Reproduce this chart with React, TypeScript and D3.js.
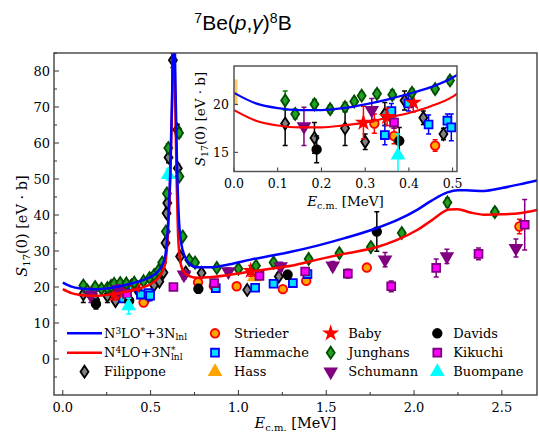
import React, { useEffect, useRef } from 'react';
import * as d3 from 'd3';

// theory curves, E in MeV, S17 in eV b
const blueE = [0, 0.05, 0.1, 0.15, 0.2, 0.25, 0.3, 0.35, 0.4, 0.45, 0.5, 0.54, 0.565, 0.583, 0.6, 0.612, 0.622, 0.632, 0.642, 0.65, 0.66, 0.675, 0.695, 0.72, 0.76, 0.85, 0.95, 1.07, 1.2, 1.3, 1.45, 1.6, 1.79, 1.9, 2.02, 2.1, 2.19, 2.25, 2.32, 2.4, 2.5, 2.6, 2.7];
const blueS = [21.2, 20.1, 19.6, 19.4, 19.4, 19.6, 20.0, 20.5, 21.1, 21.8, 22.8, 24.2, 26.0, 28.5, 38, 52, 72, 100, 75, 55, 40, 32, 28.5, 26.5, 25.5, 25.5, 26.3, 27.6, 28.8, 29.8, 31.5, 33.5, 36.4, 38.5, 41.5, 44.0, 46.3, 46.9, 46.8, 46.7, 47.5, 48.5, 49.6];
const redE = [0, 0.05, 0.1, 0.15, 0.2, 0.25, 0.3, 0.35, 0.4, 0.45, 0.5, 0.54, 0.565, 0.585, 0.6, 0.612, 0.622, 0.631, 0.64, 0.648, 0.656, 0.668, 0.685, 0.72, 0.76, 0.85, 0.95, 1.07, 1.2, 1.3, 1.45, 1.6, 1.79, 1.9, 2.02, 2.1, 2.2, 2.25, 2.32, 2.4, 2.5, 2.6, 2.7];
const redS = [19.4, 18.3, 17.8, 17.6, 17.6, 17.8, 18.1, 18.6, 19.1, 19.8, 20.8, 22.3, 24.0, 27, 36, 50, 70, 100, 72, 50, 35, 27.5, 24.5, 23.0, 22.6, 22.8, 23.4, 24.3, 25.2, 25.9, 27.6, 29.2, 31.1, 33.0, 35.9, 38.5, 41.5, 41.6, 40.7, 40.1, 40.2, 40.5, 41.4];

// experiments: [E, S17, error]
const filippone = [[0.117, 18.0, 2.3], [0.184, 16.5, 1.6], [0.254, 17.5, 1.8], [0.30, 16.1, 0.8], [0.345, 19.0, 1.2], [0.39, 20.4, 1.0], [0.433, 18.6, 0.7], [0.479, 16.9, 0.6], [0.52, 20.5, 0.8], [0.55, 21.5, 0.8], [0.573, 24.0, 0.8], [0.585, 32.2, 1.0], [0.591, 40.5, 1.0], [0.595, 43.3, 1.2], [0.602, 56.0, 1.5], [0.627, 83.0, 2.0], [0.652, 63.7, 1.5], [0.655, 53.0, 1.2], [0.668, 28.5, 0.8], [0.70, 24.0, 0.8], [0.79, 23.9, 0.8], [1.05, 19.2, 0.8], [1.23, 22.9, 0.9]];
const strieder = [[0.321, 18.0, 1.0], [0.366, 16.7, 0.8], [0.46, 15.7, 0.6], [0.77, 21.3, 0.6], [0.86, 20.3, 0.6], [0.99, 20.2, 0.6], [1.253, 19.4, 0.6], [1.386, 21.7, 0.7], [1.731, 25.4, 0.8], [2.60, 36.8, 2.0]];
const hammache = [[0.345, 16.8, 1.0], [0.36, 19.3, 0.8], [0.399, 20.1, 0.8], [0.445, 17.9, 1.0], [0.488, 18.3, 0.7], [0.497, 17.6, 1.4], [0.871, 19.7, 0.8], [1.095, 19.8, 0.8], [1.2, 20.9, 0.8], [1.31, 21.1, 0.8], [1.393, 23.6, 0.9]];
const hass = [[1.09, 22.8, 0.9]];
const baby = [[0.296, 18.1, 1.7], [0.35, 18.7, 0.9], [0.41, 20.2, 1.0], [1.07, 24.5, 1.5]];
const junghans = [[0.117, 20.4, 1.0], [0.14, 19.0, 0.5], [0.184, 20.0, 0.5], [0.22, 19.5, 0.4], [0.254, 19.7, 0.5], [0.275, 20.3, 0.4], [0.292, 20.9, 0.4], [0.327, 21.1, 0.4], [0.362, 21.0, 0.5], [0.407, 21.2, 0.4], [0.46, 21.6, 0.4], [0.494, 22.5, 0.4], [0.52, 23.3, 0.4], [0.545, 24.6, 0.5], [0.566, 26.8, 0.6], [0.587, 35.4, 0.8], [0.593, 46.0, 1.0], [0.601, 58.6, 1.2], [0.662, 62.8, 1.2], [0.664, 50.7, 1.0], [0.683, 34.0, 0.8], [0.72, 27.5, 0.6], [0.753, 26.8, 0.6], [0.877, 25.3, 0.6], [1.0, 25.1, 0.6], [1.10, 25.9, 0.7], [1.20, 26.8, 0.7], [1.40, 27.8, 0.8], [1.575, 29.4, 0.8], [1.754, 31.1, 0.9], [1.93, 35.0, 1.0], [2.19, 43.5, 1.2], [2.46, 40.8, 1.1]];
const schumann = [[0.16, 17.7, 2.0], [0.315, 19.4, 1.2], [0.69, 23.4, 1.2], [0.943, 24.3, 1.0], [1.24, 25.7, 1.2], [1.537, 25.9, 1.2], [1.835, 27.6, 2.0], [2.187, 28.5, 2.0], [2.58, 30.8, 2.5]];
const davids = [[0.189, 15.3, 1.4], [0.378, 16.2, 1.4], [0.772, 19.5, 1.2], [1.28, 23.4, 1.2], [1.788, 35.4, 5.5]];
const kikuchi = [[0.366, 18.1, 0.6], [0.63, 20.0, 0.8], [0.862, 21.1, 0.8], [1.12, 23.1, 0.9], [1.38, 24.3, 1.0], [1.623, 23.7, 1.2], [1.87, 20.2, 1.5], [2.126, 25.3, 2.5], [2.367, 29.2, 1.6], [2.63, 37.3, 7.0]];
const buompane = [[0.375, 14.7, 2.2], [0.60, 51.2, 1.5]];

const xTicks = [0, 0.5, 1.0, 1.5, 2.0, 2.5];
const yTicks = [0, 10, 20, 30, 40, 50, 60, 70, 80];
const insetXTicks = [0, 0.1, 0.2, 0.3, 0.4, 0.5];
const insetYTicks = [15, 20];
const hassBand = [19.9, 22.6]; // orange bar at E = 0 in the inset

const blueLabel = 'N<tspan font-size="9" dy="-4">3</tspan><tspan dy="4">LO</tspan><tspan font-size="9" dy="-4">*</tspan><tspan dy="4">+3N</tspan><tspan font-size="9" dy="2.5">lnl</tspan>';
const redLabel = 'N<tspan font-size="9" dy="-4">4</tspan><tspan dy="4">LO+3N</tspan><tspan font-size="9" dy="-4">*</tspan><tspan font-size="9" dx="-4.5" dy="6.5">lnl</tspan>';

const series = [
  { name: 'Filippone', data: filippone, shape: 'thin', fill: '#808080', stroke: '#000000', ebar: '#000000' },
  { name: 'Strieder', data: strieder, shape: 'circle', fill: '#ffa500', stroke: '#ff0000', ebar: '#ff0000' },
  { name: 'Hammache', data: hammache, shape: 'square', fill: '#00e0ff', stroke: '#0000ff', ebar: '#0000ff' },
  { name: 'Hass', data: hass, shape: 'triangle', fill: '#ffa500', stroke: '#ffa500', ebar: '#ffa500' },
  { name: 'Baby', data: baby, shape: 'star', fill: '#ff0000', stroke: '#ff0000', ebar: '#ff0000' },
  { name: 'Junghans', data: junghans, shape: 'thin', fill: '#22a022', stroke: '#004d00', ebar: '#008000' },
  { name: 'Schumann', data: schumann, shape: 'down', fill: '#800080', stroke: '#800080', ebar: '#800080' },
  { name: 'Davids', data: davids, shape: 'circle', fill: '#000000', stroke: '#000000', ebar: '#000000' },
  { name: 'Kikuchi', data: kikuchi, shape: 'square', fill: '#ff00ff', stroke: '#800080', ebar: '#800080' },
  { name: 'Buompane', data: buompane, shape: 'triangle', fill: '#00ffff', stroke: '#00ffff', ebar: '#00ffff' },
];

const markerPath = (shape: string) => {
  if (shape === 'thin') return 'M0,-6L4,0L0,6L-4,0Z';
  if (shape === 'circle') return d3.symbol(d3.symbolCircle, 58)();
  if (shape === 'square') return d3.symbol(d3.symbolSquare, 62)();
  if (shape === 'star') return d3.symbol(d3.symbolStar, 42)();
  return d3.symbol(d3.symbolTriangle, 58)();
};

const serif = '"DejaVu Serif", serif';

const App = () => {
  const svgRef = useRef<SVGSVGElement>(null);

  useEffect(() => {
    const svg = d3.select(svgRef.current);
    svg.selectAll('*').remove();

    const x = d3.scaleLinear().domain([-0.05, 2.7]).range([54, 537]);
    const y = d3.scaleLinear().domain([-10, 85]).range([395, 53]);
    const ix = d3.scaleLinear().domain([0, 0.51]).range([234, 457]);
    const iy = d3.scaleLinear().domain([13, 24]).range([171.5, 66]);

    const defs = svg.append('defs');
    const addClip = (id, xs, ys) => {
      const [x0, x1] = xs.range();
      const [y0, y1] = ys.range();
      defs.append('clipPath').attr('id', id).append('rect')
        .attr('x', x0).attr('y', y1).attr('width', x1 - x0).attr('height', y0 - y1);
    };
    addClip('clip-main', x, y);
    addClip('clip-inset', ix, iy);

    // markers, error bars and curves for one panel
    const drawPanel = (g, xs, ys, clipId, lw, cap) => {
      const plot = g.append('g').attr('clip-path', `url(#${clipId})`);
      series.forEach(s => {
        const grp = plot.append('g');
        grp.selectAll('.eb').data(s.data).join('path')
          .attr('d', d => {
            const cx = xs(d[0]), ya = ys(d[1] - d[2]), yb = ys(d[1] + d[2]);
            return `M${cx},${ya}V${yb}M${cx - cap},${ya}H${cx + cap}M${cx - cap},${yb}H${cx + cap}`;
          })
          .attr('fill', 'none').attr('stroke', s.ebar).attr('stroke-width', 1.5);
        grp.selectAll('.mk').data(s.data).join('path')
          .attr('d', markerPath(s.shape))
          .attr('transform', d => `translate(${xs(d[0])},${ys(d[1])})${s.shape === 'down' ? ' rotate(180)' : ''}`)
          .attr('fill', s.fill).attr('stroke', s.stroke).attr('stroke-width', 1.8);
      });
      const line = d3.line().x(d => xs(d[0])).y(d => ys(d[1])).curve(d3.curveMonotoneX);
      plot.append('path').datum(d3.zip(redE, redS)).attr('d', line)
        .attr('fill', 'none').attr('stroke', '#ff0000').attr('stroke-width', lw);
      plot.append('path').datum(d3.zip(blueE, blueS)).attr('d', line)
        .attr('fill', 'none').attr('stroke', '#0000ff').attr('stroke-width', lw);
    };

    // ---- main panel
    const main = svg.append('g');
    drawPanel(main, x, y, 'clip-main', 2.5, 2.5);

    const axes = main.append('g').attr('font-family', serif).attr('font-size', 13).attr('fill', '#000');
    d3.range(-5, 86, 5).forEach(v => {
      const major = v % 10 === 0;
      axes.append('line').attr('x1', 54).attr('x2', 54 + (major ? 5 : 3))
        .attr('y1', y(v)).attr('y2', y(v)).attr('stroke', '#333').attr('stroke-width', 1);
    });
    yTicks.forEach(v => {
      axes.append('text').attr('x', 50).attr('y', y(v) + 4.5).attr('text-anchor', 'end').text(v);
    });
    d3.range(0, 2.7, 0.25).forEach(v => {
      const major = Math.abs(v * 2 - Math.round(v * 2)) < 1e-6;
      axes.append('line').attr('x1', x(v)).attr('x2', x(v))
        .attr('y1', 395).attr('y2', 395 - (major ? 5 : 3)).attr('stroke', '#333').attr('stroke-width', 1);
    });
    xTicks.forEach(v => {
      axes.append('text').attr('x', x(v)).attr('y', 411.5).attr('text-anchor', 'middle').text(d3.format('.1f')(v));
    });
    main.append('rect').attr('x', 54).attr('y', 53).attr('width', 483).attr('height', 342)
      .attr('fill', 'none').attr('stroke', '#333').attr('stroke-width', 1.3);

    main.append('text').attr('font-family', serif).attr('font-size', 14.5)
      .attr('transform', 'translate(27,226) rotate(-90)').attr('text-anchor', 'middle')
      .html('<tspan font-style="italic">S</tspan><tspan font-size="10" dy="3">17</tspan><tspan dy="-3">(0) [eV · b]</tspan>');
    main.append('text').attr('font-family', serif).attr('font-size', 14.5)
      .attr('x', 295.5).attr('y', 428).attr('text-anchor', 'middle')
      .html('<tspan font-style="italic">E</tspan><tspan font-size="10" dy="3">c.m.</tspan><tspan dy="-3"> [MeV]</tspan>');

    // ---- legend
    const legend = main.append('g').attr('font-family', serif).attr('font-size', 13);
    const colHandle = [84.5, 215, 330.7, 437.3];
    const colText = [104, 234, 348.3, 453.3];
    const rowY = [333.3, 352.7, 371.7];
    const entries = [
      { label: blueLabel, color: '#0000ff' },
      { label: redLabel, color: '#ff0000' },
      ...series.map(s => ({ label: s.name, s })),
    ];
    entries.forEach((en, i) => {
      const col = Math.floor(i / 3), row = i % 3;
      const cy = rowY[row];
      if (en.s) {
        const s = en.s;
        legend.append('path').attr('d', markerPath(s.shape))
          .attr('transform', `translate(${colHandle[col]},${cy})${s.shape === 'down' ? ' rotate(180)' : ''}`)
          .attr('fill', s.fill).attr('stroke', s.stroke).attr('stroke-width', 1.8);
      } else {
        legend.append('line').attr('x1', 67).attr('x2', 102).attr('y1', cy).attr('y2', cy)
          .attr('stroke', en.color).attr('stroke-width', 2.5);
      }
      legend.append('text').attr('x', colText[col]).attr('y', cy + 4.5).html(en.label);
    });

    // ---- inset
    const ins = svg.append('g');
    ins.append('rect').attr('x', 234).attr('y', 66).attr('width', 223).attr('height', 105.5).attr('fill', '#fff');
    ins.append('rect').attr('x', ix(0) - 0.5).attr('y', iy(hassBand[1])).attr('width', 4)
      .attr('height', iy(hassBand[0]) - iy(hassBand[1])).attr('fill', '#ffa500').attr('opacity', 0.6)
      .attr('clip-path', 'url(#clip-inset)');
    drawPanel(ins, ix, iy, 'clip-inset', 2.2, 2.5);
    const iaxes = ins.append('g').attr('font-family', serif).attr('font-size', 12.5);
    insetXTicks.forEach(v => {
      iaxes.append('line').attr('x1', ix(v)).attr('x2', ix(v)).attr('y1', 171.5).attr('y2', 167.5)
        .attr('stroke', '#333');
      iaxes.append('text').attr('x', ix(v)).attr('y', 188).attr('text-anchor', 'middle').text(d3.format('.1f')(v));
    });
    insetYTicks.forEach(v => {
      iaxes.append('line').attr('x1', 234).attr('x2', 238).attr('y1', iy(v)).attr('y2', iy(v)).attr('stroke', '#333');
      iaxes.append('text').attr('x', 229).attr('y', iy(v) + 4.5).attr('text-anchor', 'end').text(v);
    });
    ins.append('rect').attr('x', 234).attr('y', 66).attr('width', 223).attr('height', 105.5)
      .attr('fill', 'none').attr('stroke', '#555').attr('stroke-width', 1.5);
    ins.append('text').attr('font-family', serif).attr('font-size', 13.5)
      .attr('transform', 'translate(205,119) rotate(-90)').attr('text-anchor', 'middle')
      .html('<tspan font-style="italic">S</tspan><tspan font-size="9.5" dy="3">17</tspan><tspan dy="-3">(0) [eV · b]</tspan>');
    ins.append('text').attr('font-family', serif).attr('font-size', 13.5)
      .attr('x', 345.5).attr('y', 206).attr('text-anchor', 'middle')
      .html('<tspan font-style="italic">E</tspan><tspan font-size="9.5" dy="3">c.m.</tspan><tspan dy="-3"> [MeV]</tspan>');

    // ---- title
    svg.append('text').attr('font-family', '"Liberation Sans", Arial, sans-serif').attr('font-size', 21)
      .attr('x', 243).attr('y', 30).attr('text-anchor', 'middle')
      .html('<tspan font-size="14" dy="-7">7</tspan><tspan dy="7">Be(</tspan><tspan font-style="italic">p</tspan>,<tspan font-style="italic">γ</tspan>)<tspan font-size="14" dy="-7">8</tspan><tspan dy="7">B</tspan>');
  }, []);

  return (
    <svg ref={svgRef} width={539} height={438}
      style={{ position: 'absolute', left: 0, top: 0, background: '#fff' }} />
  );
};

export default App;
